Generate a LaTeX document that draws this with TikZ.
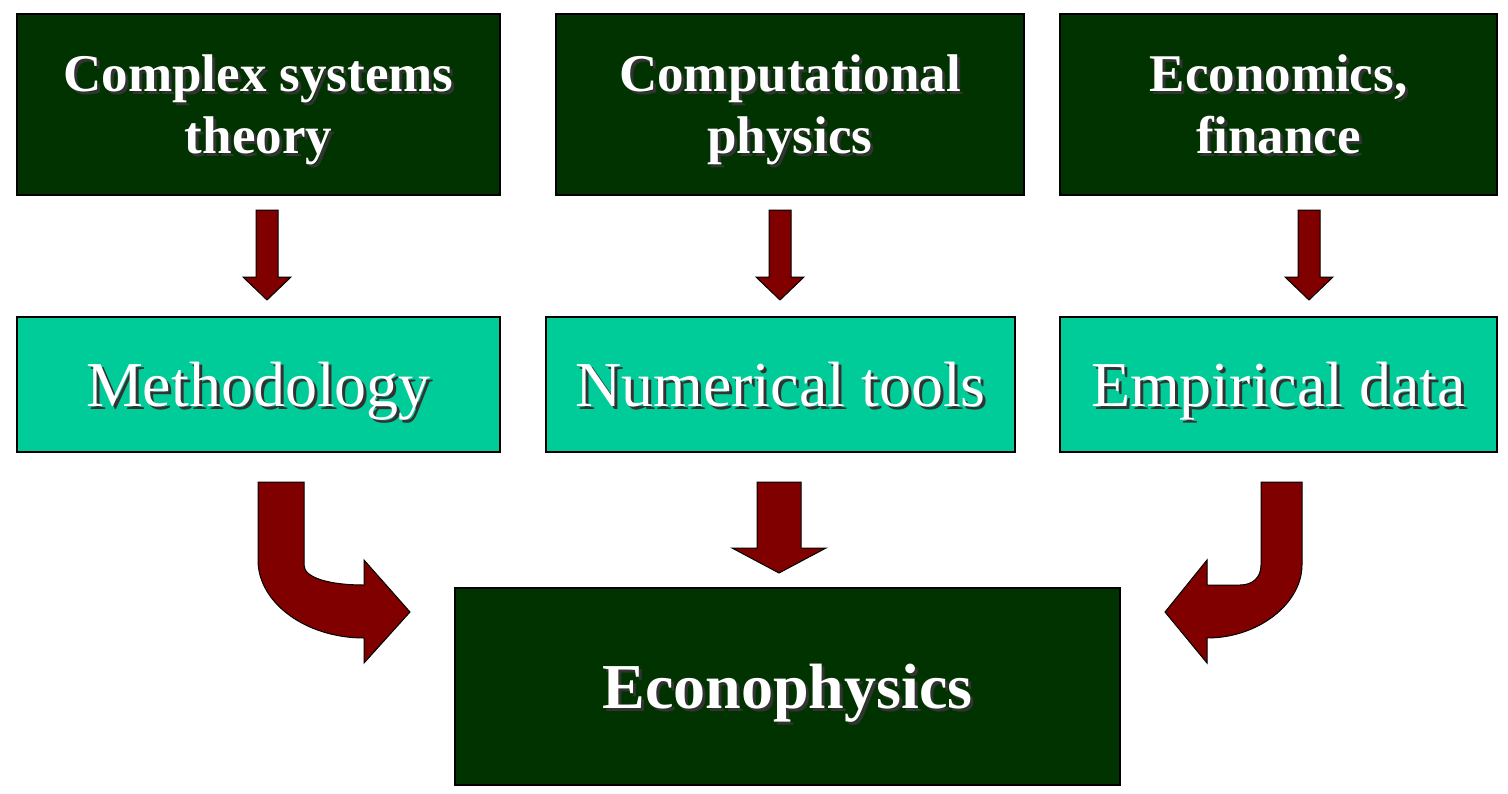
\documentclass[tikz,border=0pt]{standalone}
\usepackage{fontspec}
\setmainfont{Liberation Serif}
\usepackage{xcolor}
\usepackage{tikz}
\definecolor{efdark}{HTML}{003300}
\definecolor{efteal}{HTML}{00CC99}
\definecolor{efred}{HTML}{800000}
\newcommand\shd[1]{\makebox[0pt][l]{\hspace{3pt}\raisebox{-3pt}{\textcolor{black!80}{#1}}}#1}
% straight block arrow: x, shaft top, head base, tip, shaft half, head half
\newcommand\blockdown[6]{%
  \draw[barrow] ({#1-#5},#2) -- ({#1+#5},#2) -- ({#1+#5},#3) -- ({#1+#6},#3)
    -- (#1,#4) -- ({#1-#6},#3) -- ({#1-#5},#3) -- cycle;}

\begin{document}
\begin{tikzpicture}[x=1pt, y=-1pt,
    topbox/.style={draw=black, line width=1.4pt, fill=efdark, text=white,
      align=center, minimum height=181pt, text depth=0pt,
      font=\fontsize{53}{62}\selectfont\bfseries},
    midbox/.style={draw=black, line width=1.4pt, fill=efteal, text=white,
      minimum height=135pt, text depth=0pt, font=\fontsize{64}{70}\selectfont},
    barrow/.style={draw=black, line width=1pt, fill=efred, line join=miter}]
  \useasboundingbox (0,0) rectangle (1508,793);
  \node[topbox, minimum width=483pt] (cst) at (258.5,104.5) {\shd{Complex systems}\\\shd{theory}};
  \node[topbox, minimum width=468pt] (cph) at (790,104.5) {\shd{Computational}\\\shd{physics}};
  \node[topbox, minimum width=437pt] (eco) at (1278.5,104.5) {\shd{Economics,}\\\shd{finance}};
  \node[midbox, minimum width=483pt] (meth) at (258.5,384.5) {\shd{Methodology}};
  \node[midbox, minimum width=469pt] (num) at (780.5,384.5) {\shd{Numerical tools}};
  \node[midbox, minimum width=437pt] (emp) at (1278.5,384.5) {\shd{Empirical data}};
  \node[topbox, minimum width=665pt, minimum height=197pt,
        font=\fontsize{64}{70}\selectfont\bfseries] (ephys) at (787.5,686.5) {\shd{Econophysics}};
  \foreach \x in {267,780,1309}{
    \blockdown{\x}{210}{277}{300}{11}{24}}
  \blockdown{779}{482}{548}{573}{22}{47}
  % bent arrows into Econophysics
  \draw[barrow] (258,482) -- (304,482) -- (304,565)
    .. controls (304,578) and (330,585) .. (364,585) -- (364,560) -- (410,612)
    -- (364,663) -- (364,638) .. controls (306,638) and (258,603) .. (258,560) -- cycle;
  \draw[barrow] (1261,482) -- (1302,482) -- (1302,565)
    .. controls (1302,603) and (1259,638) .. (1207,638) -- (1207,663) -- (1165,612)
    -- (1207,560) -- (1207,585) -- (1240,585)
    .. controls (1252,585) and (1261,578) .. (1261,565) -- cycle;
\end{tikzpicture}
\end{document}
